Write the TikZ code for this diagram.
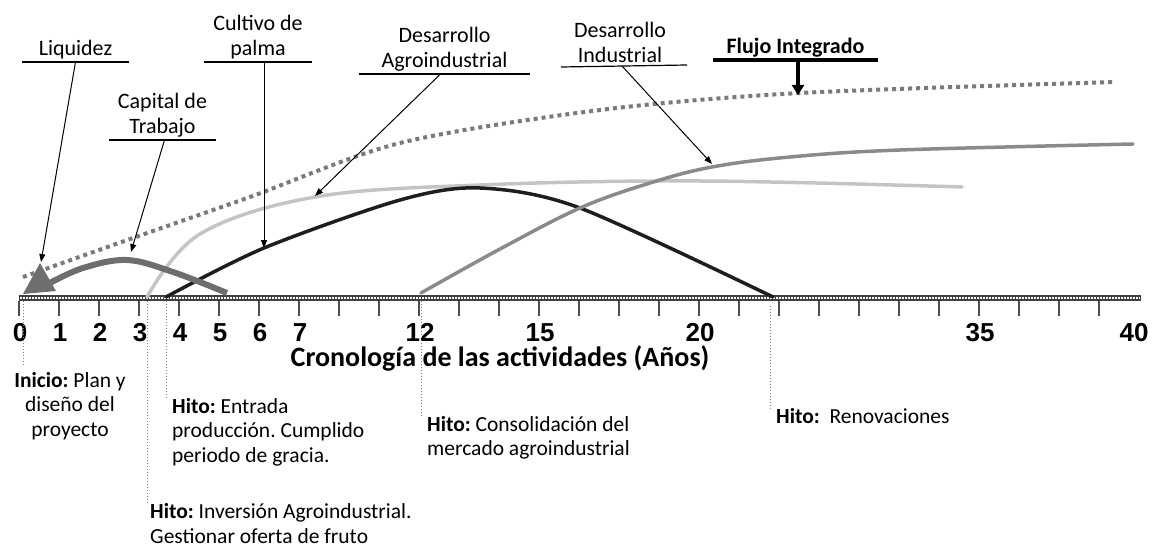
\documentclass[tikz,border=0pt]{standalone}
\usepackage{fontspec}
\setmainfont{Carlito}
\newfontfamily\axisfont{Liberation Sans}
\usetikzlibrary{arrows.meta}
\newcommand{\tagfont}{\fontsize{22}{25}\selectfont}
\newcommand{\hitofont}{\fontsize{21.5}{24.5}\selectfont}
\definecolor{flujogray}{HTML}{7A7A7A}
\definecolor{capgray}{HTML}{6E6E6E}
\definecolor{palmgray}{HTML}{C4C4C4}
\definecolor{agroblack}{HTML}{1E1E1E}
\definecolor{indgray}{HTML}{8A8A8A}
\frenchspacing

\begin{document}
\begin{tikzpicture}[x=1pt,y=-1pt]
\tikzset{tag/.style={font=\tagfont,align=center,anchor=south,inner sep=3pt},
         uline/.style={draw=black,line width=1.2pt},
         pointer/.style={-{Triangle[length=8pt,width=6pt]},line width=1pt},
         hito/.style={font=\hitofont,align=left,anchor=west,inner sep=0pt},
         milestone/.style={draw=gray,line width=1pt,dotted},
         num/.style={font=\axisfont\bfseries\fontsize{26}{26}\selectfont,inner sep=0pt,anchor=base},
         curve/.style={line width=3.5pt,line cap=round}}
%\tikzset{tag/.style={font=\large,
%                     text width=3cm
%                    }}
\useasboundingbox (0,0) rectangle (1166,548);

% axis
\draw[line width=6pt,black!75] (19,298) -- (1141,298);
\draw[line width=2.6pt,white,dash pattern=on 1.6pt off 1.4pt] (20,298) -- (1140,298);
\foreach \i in {0,...,27}
    \draw[line width=1.2pt,black!70] (19+40*\i,301) -- (19+40*\i,316);
\foreach \i/\t in {0/0,1/1,2/2,3/3,4/4,5/5,6/6,7/7,10/12,13/15,17/20,24/35}
    \node[num] (n\t) at (20+40*\i,341) {\t};
\node[num] (n40) at (1134,341) {40};
\node[font=\bfseries\fontsize{28}{28}\selectfont] (title) at (500,358)
    {Cronología de las actividades (Años)};

% curves
\draw[curve,flujogray,line width=4pt,line cap=butt,dash pattern=on 4pt off 4pt]
    plot[smooth,tension=0.5] coordinates {(23,277) (133,238) (250,197) (400,143) (600,110) (800,93) (1113,82)};
\draw[curve,palmgray]
    plot[smooth,tension=0.6] coordinates {(147,297) (200,234) (315,197) (480,185) (700,181) (962,187)};
\draw[curve,agroblack]
    plot[smooth,tension=0.5] coordinates {(166,297) (264,248) (400,200) (480,188) (580,208) (773,297)};
\draw[curve,indgray]
    plot[smooth,tension=0.6] coordinates {(421,293) (500,249) (580,208) (650,183) (712,167) (790,157) (900,150) (1133,144)};
\draw[curve,capgray,line width=6pt,line cap=butt]
    plot[smooth,tension=0.6] coordinates {(227,293) (173,272) (127,260) (83,268) (48,284)};
\fill[capgray] (23,294) -- (40,263) -- (56,291) -- cycle;

% targets on the curves
\coordinate (tLiq) at (41,262);
\coordinate (tCap) at (131,252);
\coordinate (tCul) at (264,248);
\coordinate (tAgro) at (315,196);
\coordinate (tInd) at (712,164);
\coordinate (tFlujo) at (798,95);

% labels
\node[tag] (liq) at (75.5,62) {Liquidez};
\node[tag] (cap) at (162.5,140) {Capital de\\Trabajo};
\node[tag] (cul) at (258,62) {Cultivo de\\palma};
\node[tag] (agro) at (444.5,74) {Desarrollo\\Agroindustrial};
\node[tag] (ind) at (620,66) {Desarrollo\\Industrial};
\node[tag,font=\fontsize{22}{25}\selectfont\bfseries] (flujo) at (795.5,60) {Flujo Integrado};
\foreach \n/\w in {liq/53.5,cap/53.5,cul/54,agro/85.5}
    \draw[uline] ([xshift=-\w pt]\n.south) -- ([xshift=\w pt]\n.south);
\draw[uline] ([xshift=-59pt,yshift=-1pt]ind.south) -- ([xshift=67pt,yshift=1pt]ind.south);
\draw[uline,line width=4pt] ([xshift=-82.5pt]flujo.south) -- ([xshift=82.5pt]flujo.south);

\draw[pointer] (liq.south) -- (tLiq);
\draw[pointer] ([xshift=2pt]cap.south) -- (tCap);
\draw[pointer] ([xshift=6pt]cul.south) -- (tCul);
\draw[pointer] ([xshift=-4pt]agro.south) -- (tAgro);
\draw[pointer] ([xshift=2pt]ind.south) -- (tInd);
\draw[-{Triangle[length=10pt,width=12pt]},line width=3.5pt] ([xshift=2.5pt,yshift=-2pt]flujo.south) -- (tFlujo);

% milestones
\node[hito,align=center,anchor=center] (ini) at (70,406)
    {\textbf{Inicio:} Plan y\\diseño del\\proyecto};
\node[hito] (entrada) at (172,432)
    {\textbf{Hito:} Entrada\\producción. Cumplido\\periodo de gracia.};
\node[hito] (inv) at (150,523.5)
    {\textbf{Hito:} Inversión Agroindustrial.\\Gestionar oferta de fruto};
\node[hito] (cons) at (427,438)
    {\textbf{Hito:} Consolidación del\\mercado agroindustrial};
\node[hito] (ren) at (776,416) {\textbf{Hito:}\ \ Renovaciones};

\coordinate (m0) at (23,301);
\coordinate (m3) at (147,301);
\coordinate (m4) at (166,301);
\coordinate (m12) at (421,301);
\coordinate (m22) at (770,306);
\draw[milestone] (m0) -- (23,366);
\draw[milestone] (m3) -- (m3 |- inv.north);
\draw[milestone] (m4) -- (m4 |- entrada.north);
\draw[milestone] (m12) -- (m12 |- cons.north);
\draw[milestone] (m22) -- (770,410);
\end{tikzpicture}
\end{document}
